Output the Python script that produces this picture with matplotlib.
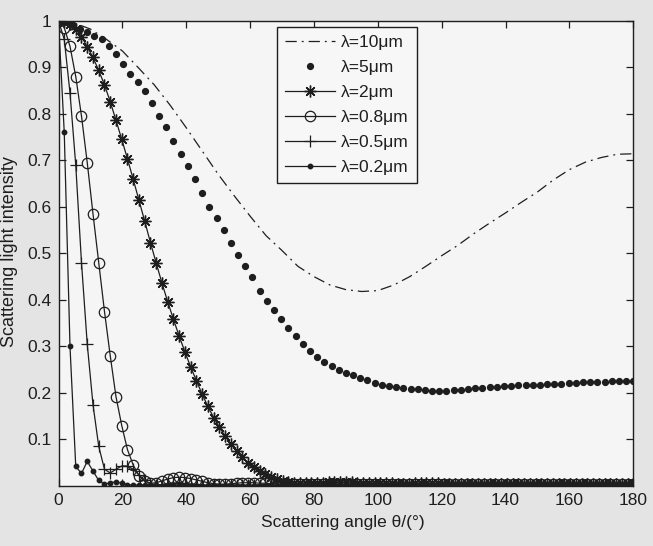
import matplotlib
matplotlib.use("Agg")
import matplotlib.pyplot as plt
import numpy as np

# ---------------- data ----------------
labels = ["λ=10μm", "λ=5μm", "λ=2μm", "λ=0.8μm", "λ=0.5μm", "λ=0.2μm"]
x_ticks = [0, 20, 40, 60, 80, 100, 120, 140, 160, 180]
y_ticks = [0.1, 0.2, 0.3, 0.4, 0.5, 0.6, 0.7, 0.8, 0.9, 1.0]
y_tick_labels = ["0.1", "0.2", "0.3", "0.4", "0.5", "0.6", "0.7", "0.8", "0.9", "1"]

# lambda = 10 um (line only), every 5 degrees
theta_10 = [0, 5, 10, 15, 20, 25, 30, 35, 40, 45, 50, 55, 60, 65, 70, 75, 80, 85, 90,
            95, 100, 105, 110, 115, 120, 125, 130, 135, 140, 145, 150, 155, 160, 165,
            170, 175, 180]
I_10 = [1.000, 0.995, 0.982, 0.960, 0.935, 0.899, 0.862, 0.818, 0.770, 0.720, 0.670,
        0.624, 0.580, 0.538, 0.506, 0.472, 0.450, 0.432, 0.422, 0.418, 0.420, 0.432,
        0.450, 0.472, 0.495, 0.517, 0.542, 0.565, 0.587, 0.610, 0.632, 0.658, 0.680,
        0.696, 0.706, 0.713, 0.714]

# lambda = 5 um (dots), 2.25 degree steps
I_5 = [1.000, 0.998, 0.990, 0.982, 0.975, 0.968, 0.960, 0.946, 0.928, 0.908,
       0.886, 0.868, 0.848, 0.823, 0.795, 0.771, 0.742, 0.713, 0.688, 0.659,
       0.630, 0.600, 0.575, 0.550, 0.522, 0.496, 0.473, 0.449, 0.420, 0.398,
       0.378, 0.359, 0.340, 0.322, 0.306, 0.290, 0.277, 0.266, 0.257, 0.249,
       0.243, 0.238, 0.232, 0.227, 0.222, 0.218, 0.215, 0.212, 0.210, 0.209,
       0.208, 0.206, 0.205, 0.205, 0.205, 0.206, 0.207, 0.208, 0.210, 0.211,
       0.212, 0.213, 0.214, 0.215, 0.216, 0.217, 0.218, 0.218, 0.219, 0.220,
       0.220, 0.221, 0.222, 0.223, 0.223, 0.224, 0.224, 0.225, 0.225, 0.226,
       0.226]

# lambda = 2 um (asterisks), 1.8 degree steps
I_2 = [1.000, 0.998, 0.992, 0.982, 0.966, 0.944, 0.921, 0.893, 0.862, 0.826,
       0.786, 0.745, 0.703, 0.659, 0.614, 0.569, 0.523, 0.479, 0.436, 0.396,
       0.358, 0.322, 0.288, 0.256, 0.226, 0.197, 0.171, 0.147, 0.126, 0.107,
       0.090, 0.075, 0.062, 0.050, 0.040, 0.032, 0.025, 0.019, 0.015, 0.011,
       0.009, 0.007, 0.006, 0.006, 0.006, 0.007, 0.007, 0.008, 0.008, 0.008,
       0.008, 0.008, 0.007, 0.007, 0.007, 0.006, 0.006, 0.006, 0.006, 0.005,
       0.005, 0.005, 0.006, 0.006, 0.006, 0.006, 0.006, 0.005, 0.005, 0.005,
       0.005, 0.005, 0.005, 0.005, 0.005, 0.005, 0.005, 0.005, 0.005, 0.005,
       0.005, 0.005, 0.005, 0.005, 0.005, 0.005, 0.005, 0.005, 0.005, 0.005,
       0.005, 0.005, 0.005, 0.005, 0.005, 0.005, 0.005, 0.005, 0.005, 0.005,
       0.005]

# lambda = 0.8 um (circles), 1.8 degree steps
I_08 = [1.000, 0.985, 0.945, 0.880, 0.795, 0.695, 0.585, 0.480, 0.375, 0.280,
        0.192, 0.130, 0.078, 0.045, 0.022, 0.010, 0.006, 0.007, 0.011, 0.015,
        0.018, 0.019, 0.018, 0.016, 0.013, 0.010, 0.007, 0.005, 0.004, 0.004,
        0.005, 0.006, 0.007, 0.007, 0.007, 0.006, 0.006, 0.005, 0.005, 0.004,
        0.004, 0.004, 0.004, 0.005, 0.005, 0.005, 0.005, 0.005, 0.004, 0.004,
        0.004, 0.004, 0.004, 0.004, 0.004, 0.004, 0.004, 0.004, 0.004, 0.004,
        0.004, 0.004, 0.004, 0.004, 0.004, 0.004, 0.004, 0.004, 0.004, 0.004,
        0.004, 0.004, 0.004, 0.004, 0.004, 0.004, 0.004, 0.004, 0.004, 0.004,
        0.004, 0.004, 0.004, 0.004, 0.004, 0.004, 0.004, 0.004, 0.004, 0.004,
        0.004, 0.004, 0.004, 0.004, 0.004, 0.004, 0.004, 0.004, 0.004, 0.004,
        0.004]

# lambda = 0.5 um (plus), 1.8 degree steps
I_05 = [1.000, 0.960, 0.845, 0.690, 0.480, 0.305, 0.175, 0.085, 0.036, 0.028,
        0.036, 0.043, 0.043, 0.036, 0.024, 0.012, 0.005, 0.002, 0.003, 0.005,
        0.006, 0.006, 0.005, 0.004, 0.003, 0.002, 0.002, 0.003, 0.003, 0.003,
        0.003, 0.002, 0.002, 0.002, 0.002, 0.003, 0.003, 0.003, 0.002, 0.002,
        0.002, 0.002, 0.002, 0.002, 0.002, 0.002, 0.002, 0.002, 0.002, 0.002,
        0.002, 0.002, 0.002, 0.002, 0.002, 0.002, 0.002, 0.002, 0.002, 0.002,
        0.002, 0.002, 0.002, 0.002, 0.002, 0.002, 0.002, 0.002, 0.002, 0.002,
        0.002, 0.002, 0.002, 0.002, 0.002, 0.002, 0.002, 0.002, 0.002, 0.002,
        0.002, 0.002, 0.002, 0.002, 0.002, 0.002, 0.002, 0.002, 0.002, 0.002,
        0.002, 0.002, 0.002, 0.002, 0.002, 0.002, 0.002, 0.002, 0.002, 0.002,
        0.002]

# lambda = 0.2 um (line with dots), 1.8 degree steps
I_02 = [1.000, 0.760, 0.300, 0.042, 0.027, 0.053, 0.032, 0.012, 0.004, 0.007,
        0.009, 0.006, 0.003, 0.002, 0.002, 0.003, 0.003, 0.002, 0.001, 0.001,
        0.002, 0.002, 0.001, 0.001, 0.001, 0.001, 0.001, 0.001, 0.001, 0.001,
        0.001, 0.001, 0.001, 0.001, 0.001, 0.001, 0.001, 0.001, 0.001, 0.001,
        0.001, 0.001, 0.001, 0.001, 0.001, 0.001, 0.001, 0.001, 0.001, 0.001,
        0.001, 0.001, 0.001, 0.001, 0.001, 0.001, 0.001, 0.001, 0.001, 0.001,
        0.001, 0.001, 0.001, 0.001, 0.001, 0.001, 0.001, 0.001, 0.001, 0.001,
        0.001, 0.001, 0.001, 0.001, 0.001, 0.001, 0.001, 0.001, 0.001, 0.001,
        0.001, 0.001, 0.001, 0.001, 0.001, 0.001, 0.001, 0.001, 0.001, 0.001,
        0.001, 0.001, 0.001, 0.001, 0.001, 0.001, 0.001, 0.001, 0.001, 0.001,
        0.001]

theta_5 = np.linspace(0, 180, len(I_5))
theta_fine = np.linspace(0, 180, len(I_2))

# ---------------- style ----------------
plt.rcParams["font.family"] = ["Liberation Sans", "DejaVu Sans"]
fs = 12.5

ink = "#1e1e1e"
fig = plt.figure(figsize=(6.53, 5.46), dpi=100, facecolor="#e4e4e4")
ax = fig.add_axes([58.5 / 653, 1 - 486 / 546, (633.3 - 58.5) / 653, (486 - 20.7) / 546])
ax.set_facecolor("#f5f5f5")

lw = 0.9
l10, = ax.plot(theta_10, I_10, color=ink, lw=lw, label=labels[0])
l10.set_dashes([9, 4, 1.5, 4])
ax.plot(theta_5, I_5, ls="none", marker="o", ms=4.2, color=ink, label=labels[1])
ax.plot(theta_fine, I_2, color=ink, lw=lw, marker=(8, 2, 0), ms=8.5, mew=1.0,
        label=labels[2])
ax.plot(theta_fine, I_08, color=ink, lw=lw, marker="o", ms=7.5, mfc="none", mew=0.9,
        label=labels[3])
ax.plot(theta_fine, I_05, color=ink, lw=lw, marker="+", ms=9, mew=0.9, label=labels[4])
ax.plot(theta_fine, I_02, color=ink, lw=lw, marker="o", ms=3.2, label=labels[5])

ax.set_xlim(0, 180)
ax.set_ylim(0, 1)
ax.set_xticks(x_ticks)
ax.set_yticks(y_ticks)
ax.set_yticklabels(y_tick_labels)
ax.tick_params(direction="in", length=5, width=0.9, colors=ink, labelsize=fs,
               top=True, right=True, pad=5)
for s in ax.spines.values():
    s.set_color(ink)
    s.set_linewidth(1.0)

fig.text(343 / 653, 1 - 522 / 546, "Scattering angle θ/(°)", ha="center", va="center",
         fontsize=fs, color=ink)
fig.text(10 / 653, 1 - 252 / 546, "Scattering light intensity", ha="center",
         va="center", rotation=90, fontsize=13, color=ink)

leg = ax.legend(loc="upper left", bbox_to_anchor=(277 / 653, 1 - 27 / 546),
                bbox_transform=fig.transFigure, fontsize=fs, frameon=True,
                fancybox=False, edgecolor=ink, facecolor="#f7f7f7", framealpha=1,
                handlelength=2.9, handletextpad=0.35, labelspacing=0.57,
                borderpad=0.45, borderaxespad=0)
leg.get_frame().set_linewidth(1.0)
for t in leg.get_texts():
    t.set_color(ink)

fig.savefig("out.png", dpi=100, facecolor=fig.get_facecolor())
